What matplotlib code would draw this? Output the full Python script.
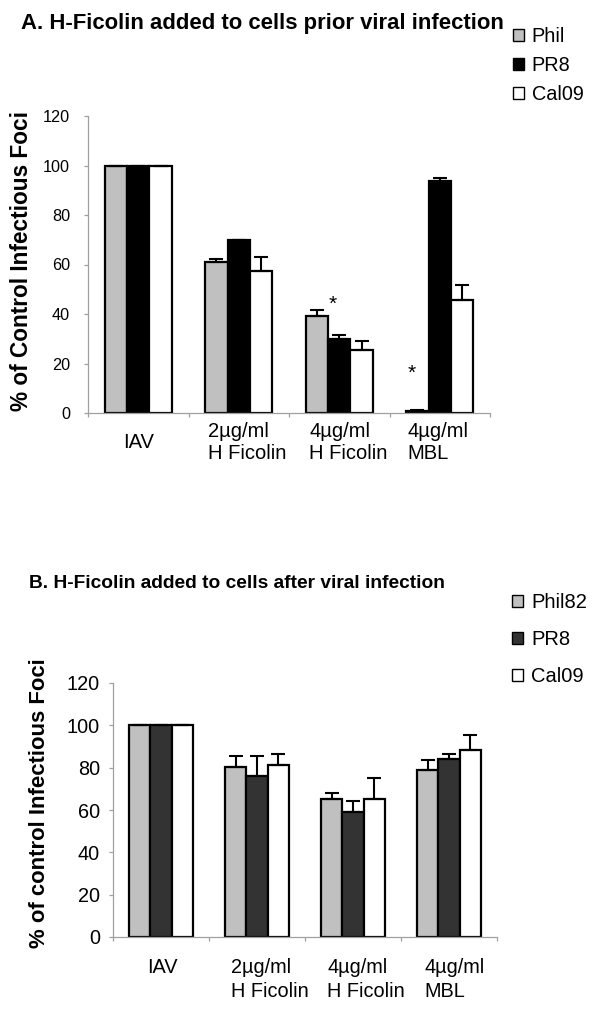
import matplotlib
matplotlib.use("Agg")
import matplotlib.pyplot as plt
import numpy as np
from matplotlib.patches import Patch

plt.rcParams['font.family'] = ['Liberation Sans', 'DejaVu Sans']

categories = ["IAV", "2µg/ml\nH Ficolin", "4µg/ml\nH Ficolin", "4µg/ml\nMBL"]

# Panel A
a_series = ["Phil", "PR8", "Cal09"]
a_phil = [100, 61.2, 39.2, 0.8]
a_pr8 = [100, 69.7, 29.8, 93.8]
a_cal = [100, 57.5, 25.3, 45.5]
a_phil_err = [0, 1.1, 2.5, 0.6]
a_pr8_err = [0, 0, 1.8, 1.2]
a_cal_err = [0, 5.6, 3.6, 6.4]

# Panel B
b_series = ["Phil82", "PR8", "Cal09"]
b_phil = [100, 80.4, 65.3, 78.7]
b_pr8 = [100, 76.0, 59.2, 83.9]
b_cal = [100, 81.2, 65.3, 88.3]
b_phil_err = [0, 5.2, 2.6, 5.1]
b_pr8_err = [0, 9.5, 5.2, 2.6]
b_cal_err = [0, 5.3, 9.6, 7.3]

W, H = 602, 1017
fig = plt.figure(figsize=(W / 100, H / 100), dpi=100)

def px_axes(l, r, t, b):
    return fig.add_axes([l / W, 1 - b / H, (r - l) / W, (b - t) / H])

def draw_panel(ax, vals, errs, colors, names, ticksize, pad):
    x = np.arange(len(categories))
    bw = 2 / 9
    offs = [-bw, 0, bw]
    for v, e, c, o, n in zip(vals, errs, colors, offs, names):
        ax.bar(x + o, v, bw, color=c, edgecolor='black', linewidth=1.6, label=n, zorder=2)
        ax.errorbar(x + o, v, yerr=[np.zeros(len(e)), e], fmt='none', ecolor='black',
                    elinewidth=1.5, capsize=5, capthick=1.5, zorder=3)
    ax.set_xlim(-0.5, len(categories) - 0.5)
    ax.set_ylim(0, 120)
    ax.set_yticks(range(0, 121, 20))
    ax.set_xticks(np.arange(-0.5, len(categories), 1.0))
    ax.set_xticklabels([])
    for s in ['top', 'right']:
        ax.spines[s].set_visible(False)
    for s in ['left', 'bottom']:
        ax.spines[s].set_color('#a0a0a0')
        ax.spines[s].set_linewidth(0.9)
    ax.tick_params(axis='both', colors='#a0a0a0', length=3, width=0.9)
    ax.tick_params(axis='y', labelcolor='black', labelsize=ticksize, pad=pad)
    ax.spines['left'].set_zorder(4)

# ---------- Panel A ----------
axA = px_axes(88, 490, 116, 413)
draw_panel(axA, [a_phil, a_pr8, a_cal], [a_phil_err, a_pr8_err, a_cal_err],
           ['#c0c0c0', '#000000', '#ffffff'], a_series, 11.7, 10)
axA.set_ylabel("% of Control Infectious Foci", fontsize=16.3, fontweight='bold')
axA.yaxis.set_label_coords(-0.137, 0.512)
a_lbl_dx = [0, 0.086, 0.09, -0.02]
for i, c in enumerate(categories):
    axA.text(i + a_lbl_dx[i], -0.101, c, transform=axA.get_xaxis_transform(),
             ha='center', va='center', fontsize=14.5, multialignment='left', linespacing=1.2)
axA.text(1.93, 44, "*", ha='center', va='center', fontsize=15)
axA.text(2.72, 16, "*", ha='center', va='center', fontsize=15)
fig.text(21 / W, 1 - 24 / H, "A. H-Ficolin added to cells prior viral infection",
         ha='left', va='center', fontsize=15.9, fontweight='bold')
hA = [Patch(facecolor=c, edgecolor='black', linewidth=1) for c in ['#c0c0c0', '#000000', '#ffffff']]
fig.legend(hA, a_series, loc='upper left', bbox_to_anchor=(513 / W, 1 - 27 / H), frameon=False,
           fontsize=14.3, handlelength=0.55, handleheight=0.55, handletextpad=0.4,
           labelspacing=0.5, borderpad=0, borderaxespad=0)

# ---------- Panel B ----------
axB = px_axes(113, 497, 683, 937)
draw_panel(axB, [b_phil, b_pr8, b_cal], [b_phil_err, b_pr8_err, b_cal_err],
           ['#c0c0c0', '#333333', '#ffffff'], b_series, 14.3, 6.5)
axB.set_ylabel("% of control Infectious Foci", fontsize=15.9, fontweight='bold')
axB.yaxis.set_label_coords(-0.164, 0.528)
b_lbl_dx = [0.01, 0.135, 0.135, 0.06]
for i, c in enumerate(categories):
    axB.text(i + b_lbl_dx[i], -0.083, c, transform=axB.get_xaxis_transform(),
             ha='center', va='top', fontsize=14.3, multialignment='left', linespacing=1.3)
fig.text(29 / W, 1 - 583 / H, "B. H-Ficolin added to cells after viral infection",
         ha='left', va='center', fontsize=13.8, fontweight='bold')
hB = [Patch(facecolor=c, edgecolor='black', linewidth=1) for c in ['#c0c0c0', '#333333', '#ffffff']]
fig.legend(hB, b_series, loc='upper left', bbox_to_anchor=(512 / W, 1 - 593 / H), frameon=False,
           fontsize=14.5, handlelength=0.55, handleheight=0.55, handletextpad=0.4,
           labelspacing=0.9, borderpad=0, borderaxespad=0)

fig.savefig("out.png", dpi=100)
